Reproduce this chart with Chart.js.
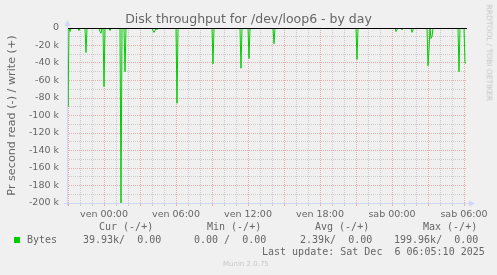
<!DOCTYPE html>
<html><head><meta charset="utf-8">
<script src="https://cdn.jsdelivr.net/npm/chart.js@4/dist/chart.umd.min.js"></script>
<style>
html,body{margin:0;padding:0;background:#f0f0f0;width:497px;height:275px;overflow:hidden;}
#wrap{position:relative;width:497px;height:275px;}
canvas{position:absolute;left:0;top:0;}
.t{position:absolute;white-space:pre;color:#666;font-family:"DejaVu Sans";line-height:1;}
.m{font-family:"DejaVu Sans Mono";font-size:10px;}
</style></head><body>
<div id="wrap">
<canvas id="c" width="497" height="275"></canvas>
<div class="t" style="left:0;width:497px;text-align:center;top:13.4px;font-size:12.5px;">Disk throughput for /dev/loop6 - by day</div>
<div class="t" style="left:438.5px;top:49.25px;width:100px;text-align:center;font-size:7.5px;color:#c4c4c4;transform:rotate(90deg);">RRDTOOL / TOBI OETIKER</div>
<div class="t m" style="left:99px;top:222.3px;">Cur (-/+)</div>
<div class="t m" style="left:207px;top:222.3px;">Min (-/+)</div>
<div class="t m" style="left:315px;top:222.3px;">Avg (-/+)</div>
<div class="t m" style="left:423px;top:222.3px;">Max (-/+)</div>
<div style="position:absolute;left:14px;top:237px;width:6px;height:6px;background:#00cc00;"></div>
<div class="t m" style="left:27px;top:234.8px;">Bytes</div>
<div class="t m" style="left:83px;top:234.8px;">39.93k/  0.00</div>
<div class="t m" style="left:194px;top:234.8px;">0.00 /  0.00</div>
<div class="t m" style="left:300px;top:234.8px;">2.39k/  0.00</div>
<div class="t m" style="left:394px;top:234.8px;">199.96k/  0.00</div>
<div class="t m" style="left:262px;top:247.2px;">Last update: Sat Dec  6 06:05:10 2025</div>
<div class="t" style="left:223px;top:260.8px;font-size:7px;color:#c8c8c8;">Munin 2.0.75</div>
</div>
<script>
// ---- data (minutes relative to "ven 00:00", read values in k bytes/s, negative = read) ----
const sampleStartMin = -185;
const sampleStepMin = 5;
const sampleCount = 400;
const spikeMinutes = [-180,-170,-155,-125,-90,-20,-15,0,30,85,105,245,250,255,265,365,545,685,725,850,1265,1460,1465,1490,1540,1545,1620,1625,1635,1640,1735,1775,1805,1810];
const spikeReadK  = [-90,-4,-1,-3,-28,-4,-6,-67,-3,-199.96,-50,-3,-5,-3,-2,-86,-41,-46,-35,-18,-36,-4,-2,-2,-5,-2,-43,-25,-12,-10,-1,-50,-40,-39.93];
const xTickMinutes = [0,360,720,1080,1440,1800];
const xTickLabels = ['ven 00:00','ven 06:00','ven 12:00','ven 18:00','sab 00:00','sab 06:00'];
const yMin = -200, yMax = 0;
const yTitle = 'Pr second read (-) / write (+)';

const readPoints = [];
for (let i = 0; i < sampleCount; i++) {
  const m = sampleStartMin + i * sampleStepMin;
  const k = spikeMinutes.indexOf(m);
  readPoints.push({x: m, y: k >= 0 ? spikeReadK[k] : 0});
}

const RED = 'rgba(222,79,79,0.42)';
const GRAY = 'rgba(143,143,143,0.38)';
const AXIS = '#CFD6F8';

const decor = {
  id: 'decor',
  afterDraw(chart) {
    const {ctx, chartArea: a, scales: {y}} = chart;
    ctx.save();
    const y0 = Math.round(y.getPixelForValue(0)) + 0.5;
    ctx.strokeStyle = '#000';
    ctx.lineWidth = 1;
    ctx.beginPath(); ctx.moveTo(a.left, y0); ctx.lineTo(a.right, y0); ctx.stroke();
    ctx.strokeStyle = AXIS; ctx.fillStyle = AXIS;
    const lx = a.left + 0.5, by = a.bottom + 0.5;
    ctx.beginPath(); ctx.moveTo(lx, a.bottom + 3); ctx.lineTo(lx, a.top - 3); ctx.stroke();
    ctx.beginPath(); ctx.moveTo(a.left - 3, by); ctx.lineTo(a.right + 3, by); ctx.stroke();
    ctx.beginPath(); ctx.moveTo(lx, a.top - 8); ctx.lineTo(lx - 3, a.top - 2); ctx.lineTo(lx + 3, a.top - 2); ctx.closePath(); ctx.fill();
    ctx.beginPath(); ctx.moveTo(a.right + 8, by); ctx.lineTo(a.right + 2, by - 3); ctx.lineTo(a.right + 2, by + 3); ctx.closePath(); ctx.fill();
    ctx.restore();
  }
};

new Chart(document.getElementById('c'), {
  type: 'line',
  data: {datasets: [{
    data: readPoints,
    borderColor: '#00cc00',
    borderWidth: 1,
    pointRadius: 0,
    fill: false,
    tension: 0
  }]},
  options: {
    responsive: false,
    animation: false,
    events: [],
    devicePixelRatio: 1,
    layout: {padding: {left: 0, top: 28, right: 30, bottom: 52}},
    plugins: {legend: {display: false}, tooltip: {enabled: false}},
    scales: {
      x: {
        type: 'linear',
        min: sampleStartMin,
        max: sampleStartMin + sampleCount * sampleStepMin,
        afterBuildTicks(s) {
          const t = [];
          for (let v = Math.ceil(s.min / 60) * 60; v <= s.max; v += 60) t.push({value: v});
          s.ticks = t;
        },
        afterFit(s) { s.height = 20; },
        grid: {
          color: c => (c.tick && c.tick.value % 180 === 0) ? RED : GRAY,
          tickColor: c => (c.tick && c.tick.value % 180 === 0) ? RED : GRAY,
          tickLength: 3,
          lineWidth: 1
        },
        border: {display: false, dash: [1, 1]},
        ticks: {
          autoSkip: false, maxRotation: 0, minRotation: 0, padding: 3,
          color: '#666',
          font: {family: 'DejaVu Sans', size: 9.5},
          callback: v => { const k = xTickMinutes.indexOf(v); return k >= 0 ? xTickLabels[k] : ''; }
        }
      },
      y: {
        type: 'linear',
        min: yMin, max: yMax,
        afterBuildTicks(s) {
          const t = [];
          for (let v = yMin; v <= yMax; v += 10) t.push({value: v});
          s.ticks = t;
        },
        afterFit(s) { s.width = 67; },
        title: {
          display: true, text: yTitle, color: '#666',
          font: {family: 'DejaVu Sans', size: 11.2, lineHeight: 1},
          padding: {top: 6.4, bottom: 0}
        },
        grid: {
          color: c => (c.tick && c.tick.value % 20 === 0) ? RED : GRAY,
          drawTicks: false,
          lineWidth: 1
        },
        border: {display: false, dash: [1, 1]},
        ticks: {
          autoSkip: false, padding: 8,
          color: '#666',
          font: {family: 'DejaVu Sans', size: 9.5},
          callback: v => v % 20 !== 0 ? '' : (v === 0 ? '0' : v + ' k')
        }
      }
    }
  },
  plugins: [decor]
});
</script>
</body></html>
